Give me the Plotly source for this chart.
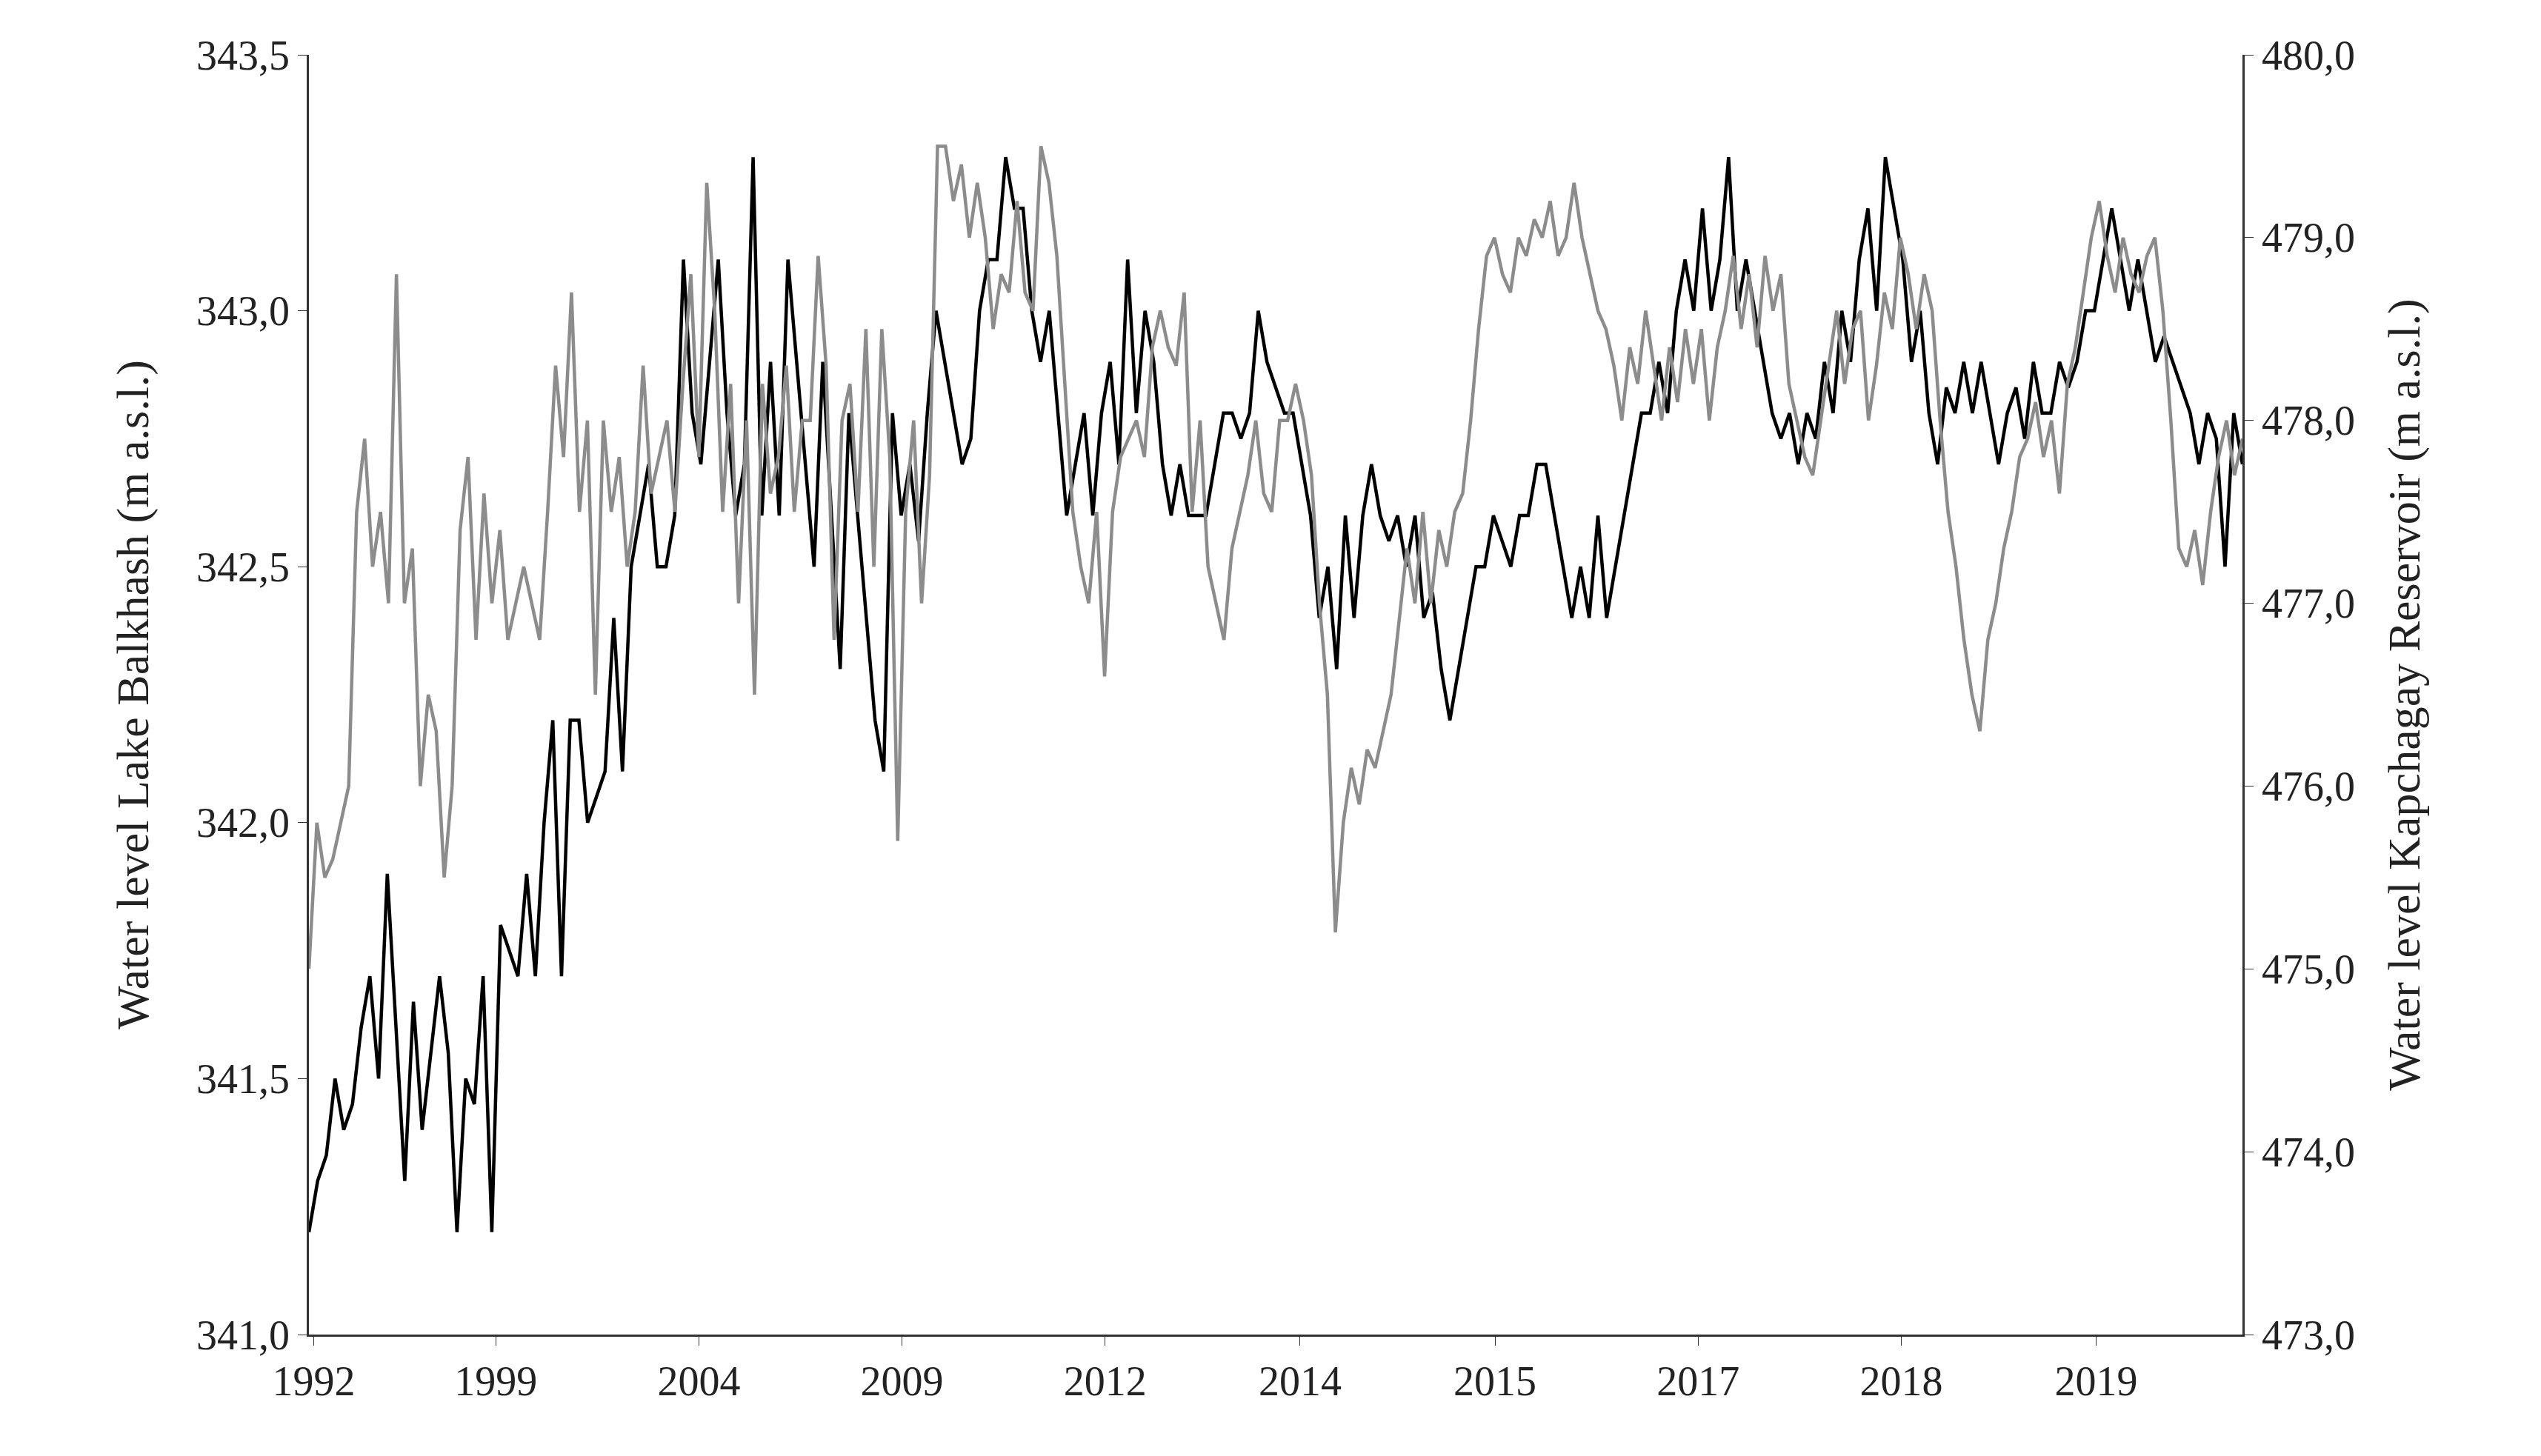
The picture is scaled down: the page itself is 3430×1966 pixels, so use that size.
import numpy as np
import plotly.graph_objects as go

tick_labels = ["1992","1999","2004","2009","2012","2014","2015","2017","2018","2019"]
tick_pos = [0.6, 23, 48, 73, 98, 122, 146, 171, 196, 220]

balkhash = [341.2,341.3,341.35,341.5,341.4,341.45,341.6,341.7,341.5,341.9,
341.6,341.3,341.65,341.4,341.55,341.7,341.55,341.2,341.5,341.45,341.7,341.2,
341.8,341.75,341.7,341.9,341.7,342.0,342.2,341.7,342.2,342.2,
342.0,342.05,342.1,342.4,342.1,342.5,342.6,342.7,342.5,342.5,
342.6,343.1,342.8,342.7,342.9,343.1,342.8,342.6,342.7,343.3,342.6,342.9,
342.6,343.1,342.9,342.7,342.5,342.9,342.6,342.3,342.8,342.6,342.4,342.2,
342.1,342.8,342.6,342.7,342.55,342.8,343.0,342.9,342.8,342.7,342.75,343.0,
343.1,343.1,343.3,343.2,343.2,343.0,342.9,343.0,342.8,342.6,342.7,342.8,
342.6,342.8,342.9,342.7,343.1,342.8,343.0,342.9,342.7,342.6,342.7,342.6,
342.6,342.6,342.7,342.8,342.8,342.75,342.8,343.0,342.9,342.85,342.8,342.8,
342.7,342.6,342.4,342.5,342.3,342.6,342.4,342.6,342.7,342.6,342.55,342.6,
342.5,342.6,342.4,342.45,342.3,342.2,342.3,342.4,342.5,342.5,342.6,342.55,
342.5,342.6,342.6,342.7,342.7,342.6,342.5,342.4,342.5,342.4,342.6,342.4,
342.5,342.6,342.7,342.8,342.8,342.9,342.8,343.0,343.1,343.0,343.2,343.0,
343.1,343.3,343.0,343.1,343.0,342.9,342.8,342.75,342.8,342.7,342.8,342.75,
342.9,342.8,343.0,342.9,343.1,343.2,343.0,343.3,343.2,343.1,342.9,343.0,
342.8,342.7,342.85,342.8,342.9,342.8,342.9,342.8,342.7,342.8,342.85,342.75,
342.9,342.8,342.8,342.9,342.85,342.9,343.0,343.0,343.1,343.2,343.1,343.0,
343.1,343.0,342.9,342.95,342.9,342.85,342.8,342.7,342.8,342.75,342.5,342.8,342.7]

kapchagay = [475.0,475.8,475.5,475.6,475.8,476.0,477.5,477.9,477.2,477.5,477.0,478.8,477.0,477.3,476.0,476.5,
476.3,475.5,476.0,477.4,477.8,476.8,477.6,477.0,477.4,476.8,477.0,477.2,
477.0,476.8,477.5,478.3,477.8,478.7,
477.5,478.0,476.5,478.0,477.5,477.8,477.2,477.5,478.3,
477.6,477.8,478.0,477.5,478.2,478.8,477.8,479.3,
478.6,477.5,478.2,477.0,478.0,476.5,478.2,477.6,477.8,478.3,
477.5,478.0,478.0,478.9,478.3,476.8,478.0,478.2,477.5,478.5,477.2,
478.5,477.8,475.7,477.5,478.0,477.0,477.7,479.5,
479.5,479.2,479.4,479.0,479.3,479.0,478.5,478.8,478.7,479.2,478.7,478.6,
479.5,479.3,478.9,478.2,477.5,477.2,477.0,477.5,476.6,477.5,477.8,477.9,
478.0,477.8,478.4,478.6,478.4,478.3,478.7,477.5,478.0,477.2,477.0,476.8,
477.3,477.5,477.7,478.0,477.6,477.5,478.0,478.0,478.2,478.0,477.7,477.0,
476.5,475.2,475.8,476.1,475.9,476.2,476.1,476.3,476.5,476.9,477.3,477.0,
477.5,477.0,477.4,477.2,477.5,477.6,478.0,478.5,478.9,479.0,478.8,478.7,
479.0,478.9,479.1,479.0,479.2,478.9,479.0,479.3,479.0,478.8,478.6,478.5,
478.3,478.0,478.4,478.2,478.6,478.3,478.0,478.4,478.1,478.5,478.2,478.5,
478.0,478.4,478.6,478.9,478.5,478.8,478.4,478.9,478.6,478.8,478.2,478.0,
477.8,477.7,478.0,478.3,478.6,478.2,478.5,478.6,478.0,478.3,478.7,478.5,
479.0,478.8,478.5,478.8,478.6,478.0,477.5,477.2,476.8,476.5,476.3,476.8,
477.0,477.3,477.5,477.8,477.9,478.1,477.8,478.0,477.6,478.2,478.4,478.7,
479.0,479.2,478.9,478.7,479.0,478.8,478.7,478.9,479.0,478.6,478.0,477.3,
477.2,477.4,477.1,477.5,477.8,478.0,477.7,477.9]

XEND = 238
xb = np.linspace(0, XEND, len(balkhash))
xk = np.linspace(0, XEND, len(kapchagay))

fig = go.Figure()
fig.add_trace(go.Scatter(x=xk, y=kapchagay, yaxis="y2", mode="lines",
                         line=dict(color="#8c8c8c", width=4.5), showlegend=False))
fig.add_trace(go.Scatter(x=xb, y=balkhash, mode="lines",
                         line=dict(color="#000000", width=4.5), showlegend=False))

font = dict(family="Liberation Serif, DejaVu Serif, serif", size=56, color="#222")
fig.update_layout(
    width=3430, height=1966, separators=", ",
    paper_bgcolor="white", plot_bgcolor="white", font=font,
    margin=dict(l=409, r=411, t=66, b=172),
    xaxis=dict(range=[0, XEND], tickvals=tick_pos, ticktext=tick_labels,
               showline=True, linecolor="#333", linewidth=2.5, ticks="outside",
               ticklen=12, tickcolor="#333", showgrid=False, zeroline=False),
    yaxis=dict(range=[341.0, 343.5], dtick=0.5, tickformat=".1f",
               showline=True, linecolor="#333", linewidth=2.5, ticks="outside",
               ticklen=12, tickcolor="#333", showgrid=False, zeroline=False,
               title=dict(text="Water level Lake Balkhash (m a.s.l.)", font=dict(size=62), standoff=45)),
    yaxis2=dict(range=[473.0, 480.0], dtick=1, tickformat=".1f", overlaying="y", side="right",
                showline=True, linecolor="#333", linewidth=2.5, ticks="outside",
                ticklen=12, tickcolor="#333", showgrid=False, zeroline=False,
                title=dict(text="Water level Kapchagay Reservoir (m a.s.l.)", font=dict(size=62), standoff=45)),
)
fig.write_html("out.html")
